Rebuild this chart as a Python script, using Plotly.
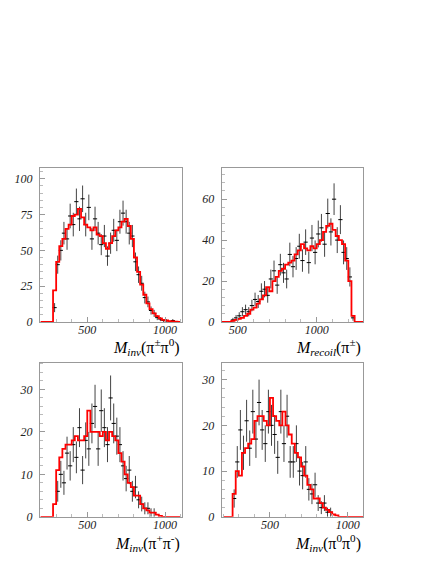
import plotly.graph_objects as go
from plotly.subplots import make_subplots
import math

BIN = 20  # MeV per bin

# panel 1: M_inv(pi+- pi0), bins from 200 to 1100
p1_lo = 200
p1_mc = [0, 0, 0, 0,
         22, 42, 53, 58, 65, 68, 74, 75, 79, 73, 68, 66, 64, 66, 61, 60, 55, 51, 55, 60,
         64, 66, 70, 72, 67, 58, 45, 35, 26, 19, 13, 9, 6, 4, 2.5, 1.5, 1, 0.5, 0.3, 0.2, 0]
p1_data = [0, 0, 0, 0,
           10, 40, 50, 62, 58, 74, 68, 84, 72, 86, 68, 80, 58, 72, 62, 54, 60, 46, 55, 64,
           57, 70, 76, 70, 62, 60, 42, 33, 27, 17, 14, 8, 6, 3, 2, 1, 1, 0, 1, 0, 0]

# panel 2: M_recoil(pi+-), bins from 400 to 1300
p2_lo = 400
p2_mc = [0,
         0, 0, 0.5, 1, 1.5, 2, 3, 4, 6, 7, 9, 11, 13, 17, 15, 20, 22, 25, 26, 28,
         29, 30, 33, 35, 38, 36, 35, 37, 36, 38, 40, 44, 47, 48, 45, 42, 40, 38, 30, 20,
         3, 0, 0,
         0]
p2_data = [0,
           0, 0, 1, 2, 3, 5, 6, 5, 8, 11, 10, 15, 16, 13, 21, 25, 18, 28, 24, 21,
           33, 27, 31, 37, 30, 39, 29, 41, 34, 43, 46, 38, 53, 44, 60, 40, 50, 34, 31, 22,
           2, 0, 0,
           0]

# panel 3: M_inv(pi+ pi-), bins from 200 to 1100
p3_lo = 200
p3_mc = [0, 0, 0, 0,
         3, 11, 14, 16, 17, 17, 18, 19, 18, 18, 19, 25, 20, 20, 20, 19, 20, 18, 20, 19,
         18, 15, 13, 10, 8, 7, 5, 5, 3, 2, 1.5, 1, 1, 0.5, 0.2, 0, 0, 0, 0, 0, 0]
p3_data = [0, 0, 0, 0,
           0, 6, 10, 8, 15, 12, 17, 14, 21, 11, 18, 16, 22, 26, 16, 25, 21, 17, 28, 22,
           19, 17, 12, 9, 11, 6, 7, 4, 3, 2, 2, 1, 1, 0, 0, 0, 0, 0, 0, 0, 0]

# panel 4: M_inv(pi0 pi0), bins from 200 to 1100
p4_lo = 200
p4_mc = [0, 0, 0,
         5, 10, 9, 14, 15, 16, 17, 21, 22, 22, 21, 20, 26, 22, 21, 20, 23, 20, 18, 16,
         14, 13, 11, 9, 7, 6, 4, 4, 3, 2, 1.5, 1, 0.5, 0.3, 0, 0, 0, 0, 0, 0, 0, 0]
p4_data = [0, 0, 0,
           4, 12, 19, 14, 21, 15, 23, 17, 25, 19, 16, 23, 20, 18, 13, 23, 16, 22, 12, 12,
           16, 10, 9, 12, 6, 5, 7, 3, 2, 3, 1, 1, 0, 0, 0, 0, 0, 0, 0, 0, 0, 0]

titles = [
    "<i>M<sub>inv</sub></i>(π<sup>±</sup>π<sup>0</sup>)",
    "<i>M<sub>recoil</sub></i>(π<sup>±</sup>)",
    "<i>M<sub>inv</sub></i>(π<sup>+</sup>π<sup>-</sup>)",
    "<i>M<sub>inv</sub></i>(π<sup>0</sup>π<sup>0</sup>)",
]
x_ticks = [500, 1000]
y_ticks = [[0, 25, 50, 75, 100], [0, 20, 40, 60], [0, 10, 20, 30], [0, 10, 20, 30]]
x_ranges = [[196, 1107], [399, 1295], [196, 1107], [190, 1100]]
y_ranges = [[0, 107.6], [0, 75.3], [0, 36.3], [0, 33.7]]

panels = [(p1_lo, p1_mc, p1_data), (p2_lo, p2_mc, p2_data),
          (p3_lo, p3_mc, p3_data), (p4_lo, p4_mc, p4_data)]

fig = make_subplots(rows=2, cols=2)
cells = [(1, 1), (1, 2), (2, 1), (2, 2)]

for (lo, mc, data), (r, c) in zip(panels, cells):
    centres = [lo + BIN * i + BIN / 2 for i in range(len(data))]
    dx = [x for x, n in zip(centres, data) if n > 0]
    dy = [n for n in data if n > 0]
    fig.add_trace(go.Scatter(
        x=dx, y=dy, mode="markers",
        marker=dict(symbol="line-ew", size=3, line=dict(width=1, color="black")),
        error_y=dict(type="data", array=[math.sqrt(n) for n in dy], width=0,
                     thickness=1, color="rgba(20,20,20,0.8)"),
        showlegend=False), row=r, col=c)
    edges = [lo + BIN * i for i in range(len(mc) + 1)]
    fig.add_trace(go.Scatter(
        x=edges, y=mc + [mc[-1]], mode="lines", line_shape="hv",
        line=dict(color="#ff0000", width=1.8),
        showlegend=False), row=r, col=c)

xdom = [[0.0917, 0.4167], [0.5085, 0.8333]]
ydom = [[0.422, 0.6986], [0.0722, 0.3488]]
title_y = [-0.16, -0.17]
tickfont = dict(family="Liberation Serif", size=12, color="#222")

for i, (r, c) in enumerate(cells):
    n = i + 1
    sx = "xaxis" if n == 1 else "xaxis%d" % n
    sy = "yaxis" if n == 1 else "yaxis%d" % n
    fig.layout[sx].update(
        domain=xdom[c - 1], range=x_ranges[i],
        tickvals=x_ticks, ticktext=["<i>%d</i>" % v for v in x_ticks],
        showline=True, mirror=True, linecolor="#999", linewidth=1,
        ticks="inside", ticklen=5, tickcolor="#999", showgrid=False, zeroline=False,
        minor=dict(ticks="inside", ticklen=3, tick0=0, dtick=100, tickcolor="#bbb"),
        ticklabelstandoff=-3, tickfont=tickfont)
    dy_minor = (y_ticks[i][1] - y_ticks[i][0]) / 5
    fig.layout[sy].update(
        domain=ydom[r - 1], range=y_ranges[i],
        tickvals=y_ticks[i], ticktext=["<i>%d</i>" % v for v in y_ticks[i]],
        showline=True, mirror=True, linecolor="#999", linewidth=1,
        ticks="inside", ticklen=5, tickcolor="#999", showgrid=False, zeroline=False,
        minor=dict(ticks="inside", ticklen=3, tick0=0, dtick=dy_minor, tickcolor="#bbb"),
        ticklabelstandoff=4, tickfont=tickfont)
    xref = "x domain" if n == 1 else "x%d domain" % n
    yref = "y domain" if n == 1 else "y%d domain" % n
    fig.add_annotation(text=titles[i], xref=xref, yref=yref, x=1.0, y=title_y[r - 1],
                       xanchor="right", yanchor="middle", showarrow=False,
                       font=dict(family="Liberation Serif", size=16, color="black"))

fig.update_layout(width=436, height=564, margin=dict(l=0, r=0, t=0, b=0),
                  font=dict(family="Liberation Serif"),
                  plot_bgcolor="white", paper_bgcolor="white")
# drop the page's default body margin so the figure sits at the window corner
fig.write_html("out.html", config={"displayModeBar": False},
               post_script="document.body.style.margin='0';")
